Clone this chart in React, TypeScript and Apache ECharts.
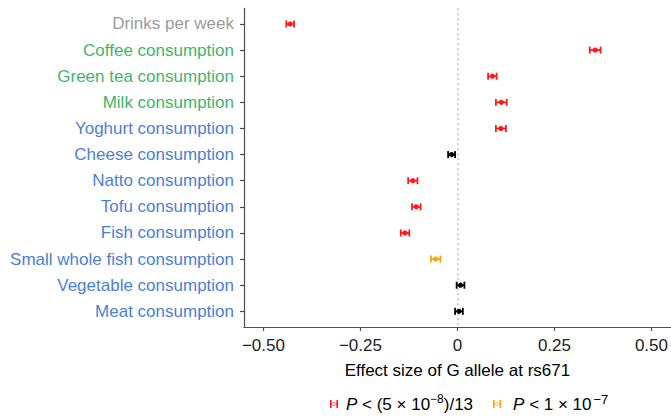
import React, { useEffect, useRef } from "react";
import * as echarts from "echarts";

const categories = [
  "Drinks per week",
  "Coffee consumption",
  "Green tea consumption",
  "Milk consumption",
  "Yoghurt consumption",
  "Cheese consumption",
  "Natto consumption",
  "Tofu consumption",
  "Fish consumption",
  "Small whole fish consumption",
  "Vegetable consumption",
  "Meat consumption",
];
const labelGroups = ["drink", "beverage", "beverage", "beverage", "food", "food", "food", "food", "food", "food", "food", "food"];
const effects = [-0.431, 0.355, 0.09, 0.113, 0.112, -0.015, -0.115, -0.106, -0.135, -0.056, 0.008, 0.004];
const errors = [0.01, 0.014, 0.011, 0.014, 0.013, 0.009, 0.012, 0.011, 0.011, 0.012, 0.01, 0.01];
const significance = ["strict", "strict", "strict", "strict", "strict", "none", "strict", "strict", "strict", "suggestive", "none", "none"];
const xTicks = [-0.5, -0.25, 0, 0.25, 0.5];
const xTickLabels = ["\u22120.50", "\u22120.25", "0", "0.25", "0.50"];

const labelColors: Record<string, string> = { drink: "#9b9b9b", beverage: "#3fb56c", food: "#4a7fd8" };
const groupColors: Record<string, string> = { strict: "#ff1a1a", suggestive: "#ffa500", none: "#000000" };

const errIcon =
  "path://M0,0h1.6v8h-1.6z M6.4,0h1.6v8h-1.6z M1.6,3.3h4.8v1.4h-4.8z M2.2,4a1.8,1.8 0 1,0 3.6,0a1.8,1.8 0 1,0 -3.6,0z";

function makeSeries(group: string) {
  const data: number[][] = [];
  effects.forEach((v, i) => {
    if (significance[i] === group) data.push([v, i, v - errors[i], v + errors[i]]);
  });
  const color = groupColors[group];
  return {
    type: "custom",
    name: group,
    data,
    encode: { x: 0, y: 1 },
    itemStyle: { color },
    renderItem: (params: any, api: any) => {
      const y = api.value(1);
      const c = api.coord([api.value(0), y]);
      const lo = api.coord([api.value(2), y]);
      const hi = api.coord([api.value(3), y]);
      const h = 3.5;
      const ls = { stroke: color, lineWidth: 1.8 };
      return {
        type: "group",
        children: [
          { type: "line", shape: { x1: lo[0], y1: c[1], x2: hi[0], y2: c[1] }, style: ls },
          { type: "line", shape: { x1: lo[0], y1: c[1] - h, x2: lo[0], y2: c[1] + h }, style: ls },
          { type: "line", shape: { x1: hi[0], y1: c[1] - h, x2: hi[0], y2: c[1] + h }, style: ls },
          { type: "circle", shape: { cx: c[0], cy: c[1], r: 2.6 }, style: { fill: color } },
        ],
      };
    },
  };
}

export default function App() {
  const ref = useRef<HTMLDivElement>(null);
  useEffect(() => {
    if (!ref.current) return;
    const chart = echarts.init(ref.current, null, { renderer: "svg" });
    const font = "Liberation Sans";
    const series: any[] = [makeSeries("none"), makeSeries("suggestive"), makeSeries("strict")];
    series[0].markLine = {
      silent: true,
      symbol: "none",
      label: { show: false },
      lineStyle: { type: [2, 3], color: "#bdbdbd", width: 1.5 },
      data: [{ xAxis: 0 }],
      z: 1,
    };
    const yRich: any = {};
    Object.keys(labelColors).forEach((k) => {
      yRich[k] = { fontSize: 17, fontFamily: font, color: labelColors[k] };
    });
    chart.setOption({
      animation: false,
      textStyle: { fontFamily: font },
      grid: { left: 244, right: 0, top: 8.3, bottom: 90 },
      xAxis: {
        type: "value",
        min: -0.55,
        max: 0.55,
        name: "Effect size of G allele at rs671",
        nameLocation: "middle",
        nameGap: 35,
        nameTextStyle: { fontSize: 17, color: "#000", fontFamily: font },
        axisLine: { show: true, onZero: false, lineStyle: { color: "#4d4d4d", width: 1.2 } },
        axisTick: { show: true, length: 4, customValues: xTicks, lineStyle: { color: "#4d4d4d", width: 1.2 } },
        axisLabel: {
          customValues: xTicks,
          fontSize: 17,
          color: "#222",
          margin: 10,
          formatter: (v: number) => {
            const k = xTicks.findIndex((t) => Math.abs(t - v) < 1e-9);
            return k >= 0 ? xTickLabels[k] : "";
          },
        },
        splitLine: { show: false },
      },
      yAxis: {
        type: "value",
        min: -0.6,
        max: 11.6,
        inverse: true,
        axisLine: { show: true, onZero: false, lineStyle: { color: "#4d4d4d", width: 1.2 } },
        axisTick: { show: true, length: 4, customValues: categories.map((_, i) => i), lineStyle: { color: "#4d4d4d", width: 1.2 } },
        axisLabel: {
          customValues: categories.map((_, i) => i),
          fontSize: 17,
          margin: 10,
          formatter: (v: number) => {
            const i = Math.round(v);
            return categories[i] ? `{${labelGroups[i]}|${categories[i]}}` : "";
          },
          rich: yRich,
        },
        splitLine: { show: false },
      },
      legend: {
        left: 325,
        top: 388,
        itemWidth: 8,
        itemHeight: 8,
        itemGap: 20,
        data: [
          { name: "strict", icon: errIcon, itemStyle: { color: groupColors.strict } },
          { name: "suggestive", icon: errIcon, itemStyle: { color: groupColors.suggestive } },
        ],
        formatter: (name: string) =>
          name === "strict"
            ? "{s| }{i|P}{t| < (5 \u00d7 10}{sup|\u22128}{t|)/13}"
            : "{s2| }{i|P}{t| < 1 \u00d7 10}{sup2|\u22127}",
        textStyle: {
          fontFamily: font,
          fontSize: 17,
          color: "#000",
          rich: {
            s: { fontSize: 17, width: 3, lineHeight: 22 },
            s2: { fontSize: 17, width: 7, lineHeight: 22 },
            i: { fontSize: 17, fontStyle: "italic", color: "#000", lineHeight: 22 },
            t: { fontSize: 17, color: "#000", lineHeight: 22 },
            sup: { fontSize: 12, color: "#000", verticalAlign: "top", lineHeight: 14 },
            sup2: { fontSize: 13, color: "#000", verticalAlign: "top", lineHeight: 14, padding: [0, 0, 0, 2] },
          },
        },
      },
      series,
    });
    return () => chart.dispose();
  }, []);
  return <div ref={ref} style={{ position: "absolute", left: 0, top: 0, width: 671, height: 417 }} />;
}
